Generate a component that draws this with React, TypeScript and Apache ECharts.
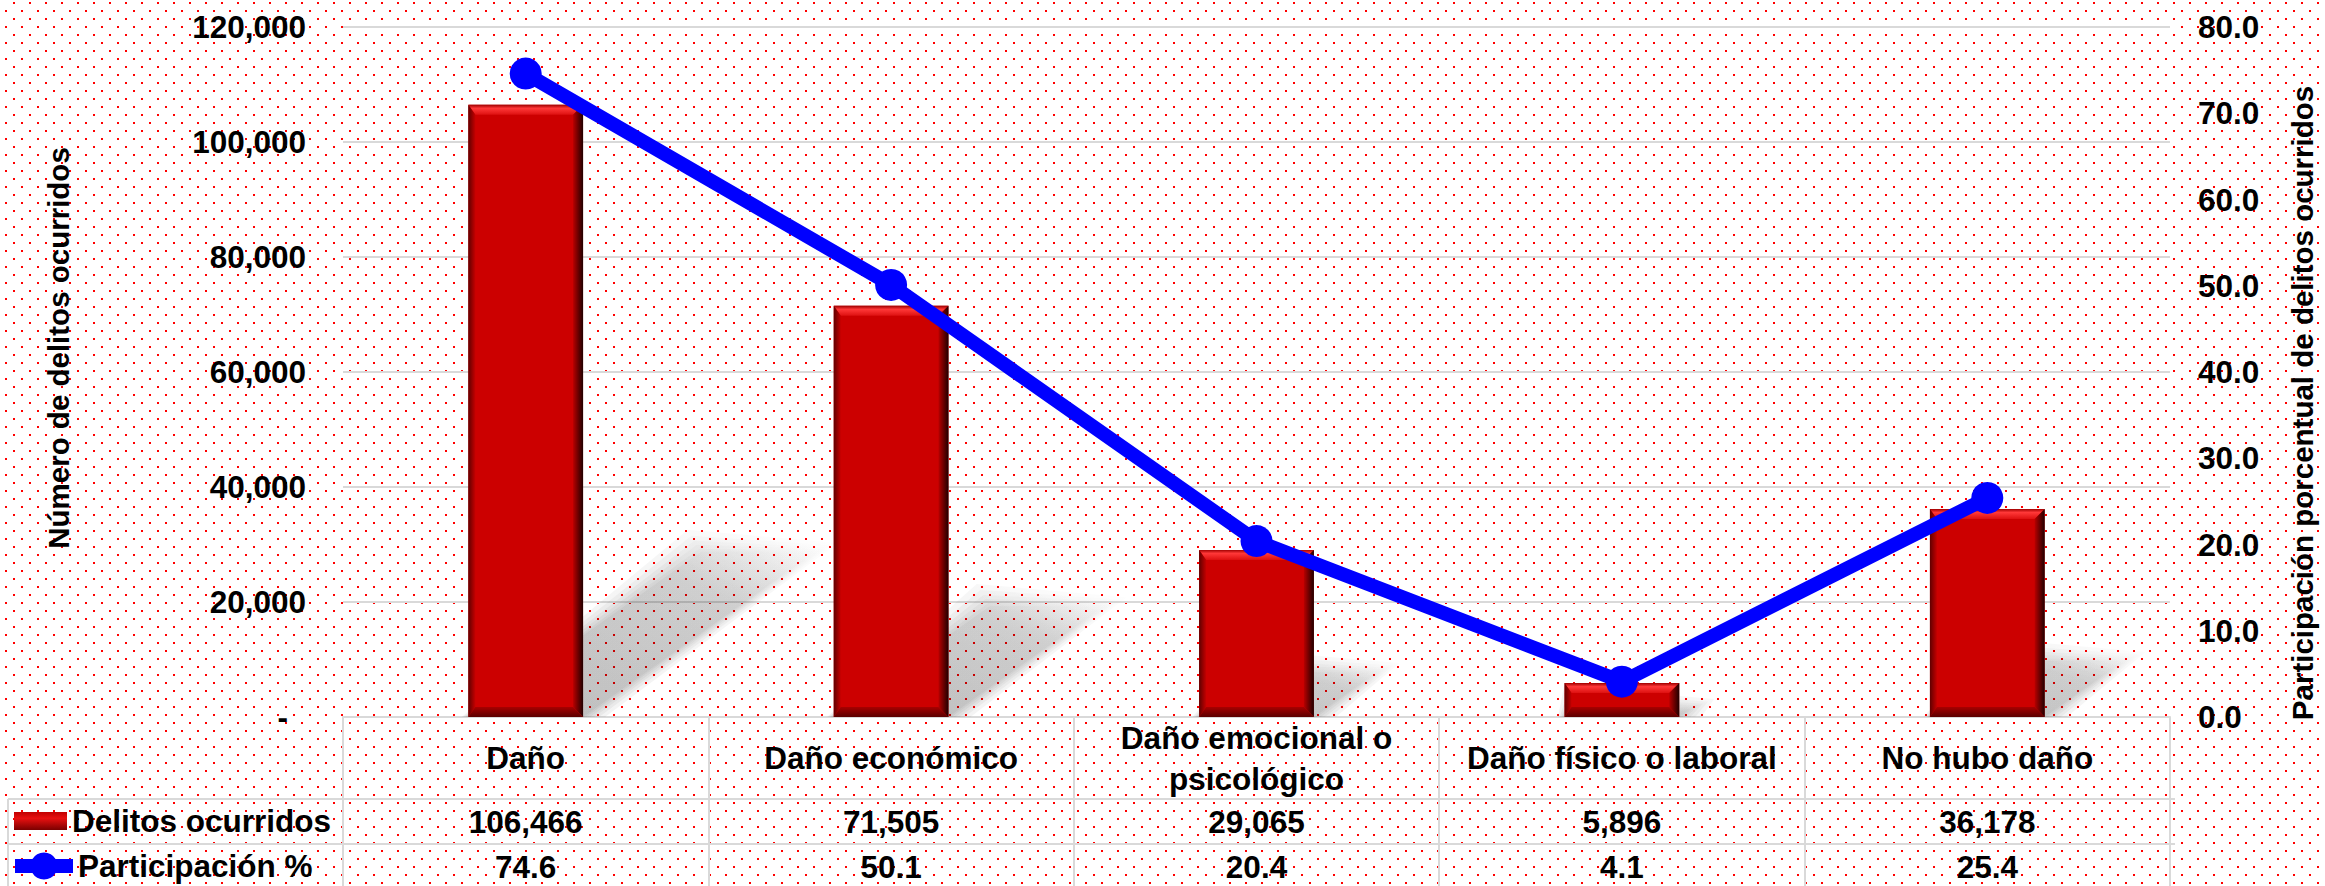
import React, { useEffect, useRef } from "react";
import * as echarts from "echarts";

const categories = [
  "Daño",
  "Daño económico",
  "Daño emocional o psicológico",
  "Daño físico o laboral",
  "No hubo daño",
];
const delitos = [106466, 71505, 29065, 5896, 36178];
const participacion = [74.6, 50.1, 20.4, 4.1, 25.4];
const seriesNames = ["Delitos ocurridos", "Participación %"];
const leftAxisName = "Número de delitos ocurridos";
const rightAxisName = "Participación porcentual de delitos ocurridos";

const FONT = "'Liberation Sans', Arial, sans-serif";
const FS = 31.5;
const GRID_LEFT = 343;
const GRID_RIGHT_X = 2175;
const GRID_TOP = 27;
const GRID_BOTTOM_Y = 717;
const ROW1 = 799;
const ROW2 = 844;
const GREY = "#D9D9D9";

const tile =
  "data:image/svg+xml;utf8," +
  encodeURIComponent(
    "<svg xmlns='http://www.w3.org/2000/svg' width='16' height='16'><rect x='5' y='10' width='2' height='2' fill='#ff0000'/><rect x='13' y='2' width='2' height='2' fill='#ff0000'/></svg>"
  );

function wrap(name: string, max: number): string {
  const words = name.split(" ");
  const lines: string[] = [];
  let cur = "";
  for (const w of words) {
    const t = cur ? cur + " " + w : w;
    if (t.length > max && cur) {
      lines.push(cur);
      cur = w;
    } else cur = t;
  }
  if (cur) lines.push(cur);
  return lines.join("\n");
}

function renderShadow(params: any, api: any) {
  const idx = api.value(0);
  const val = api.value(1);
  const top = api.coord([idx, val]);
  const base = api.coord([idx, 0]);
  const band = api.size([1, 0])[0];
  const w = band * 0.314;
  const x0 = top[0] - w / 2;
  const x1 = top[0] + w / 2;
  const y1 = base[1];
  const h = y1 - top[1];
  const dx = h * 0.38;
  const dy = h * 0.27;
  const layers = [22, 16, 11, 7, 3, 0];
  return {
    type: "group",
    children: layers.map((e) => ({
      type: "polygon",
      shape: {
        points: [
          [x0 - e * 0.3, y1],
          [x1 + e, y1],
          [x1 + dx + e, y1 - dy - e * 0.4],
          [x0 + dx - e * 0.6, y1 - dy - e],
        ],
      },
      style: {
        fill: new echarts.graphic.LinearGradient(0, 1, 1, 0, [
          { offset: 0, color: "rgba(0,0,0,0.05)" },
          { offset: 0.7, color: "rgba(0,0,0,0.035)" },
          { offset: 1, color: "rgba(0,0,0,0.0)" },
        ]),
      },
    })),
  };
}

function renderBar(params: any, api: any) {
  const idx = api.value(0);
  const val = api.value(1);
  const top = api.coord([idx, val]);
  const base = api.coord([idx, 0]);
  const band = api.size([1, 0])[0];
  const w = band * 0.314;
  const x0 = top[0] - w / 2;
  const x1 = top[0] + w / 2;
  const y0 = top[1];
  const y1 = base[1];
  const b = Math.min(10, (y1 - y0) / 2);
  const bl = Math.min(7, (y1 - y0) / 2);
  return {
    type: "group",
    children: [
      {
        type: "rect",
        shape: { x: x0, y: y0, width: w, height: y1 - y0 },
        style: { fill: "#CC0000" },
      },
      {
        type: "polygon",
        shape: { points: [[x0, y0], [x1, y0], [x1 - b, y0 + b], [x0 + bl, y0 + b]] },
        style: {
          fill: new echarts.graphic.LinearGradient(0, 0, 0, 1, [
            { offset: 0, color: "#A00000" },
            { offset: 0.35, color: "#FF3838" },
            { offset: 1, color: "#DD1010" },
          ]),
        },
      },
      {
        type: "polygon",
        shape: { points: [[x0, y0], [x0 + bl, y0 + b], [x0 + bl, y1 - b], [x0, y1]] },
        style: {
          fill: new echarts.graphic.LinearGradient(0, 0, 1, 0, [
            { offset: 0, color: "#600000" },
            { offset: 1, color: "#C40000" },
          ]),
        },
      },
      {
        type: "polygon",
        shape: { points: [[x1, y0], [x1, y1], [x1 - b, y1 - b], [x1 - b, y0 + b]] },
        style: {
          fill: new echarts.graphic.LinearGradient(0, 0, 1, 0, [
            { offset: 0, color: "#B80000" },
            { offset: 1, color: "#200000" },
          ]),
        },
      },
      {
        type: "polygon",
        shape: { points: [[x0, y1], [x1, y1], [x1 - b, y1 - b], [x0 + bl, y1 - b]] },
        style: {
          fill: new echarts.graphic.LinearGradient(0, 0, 0, 1, [
            { offset: 0, color: "#A80000" },
            { offset: 1, color: "#5A0000" },
          ]),
        },
      },
    ],
  };
}

export default function App() {
  const ref = useRef<HTMLDivElement>(null);
  useEffect(() => {
    if (!ref.current) return;
    const chart = echarts.init(ref.current, undefined, { renderer: "svg" });
    const labelBase = { fontFamily: FONT, fontWeight: "bold" as const, fontSize: FS, color: "#000" };
    const option: any = {
      animation: false,
      textStyle: { fontFamily: FONT },
      grid: {
        left: GRID_LEFT,
        right: 2325 - GRID_RIGHT_X,
        top: GRID_TOP,
        bottom: 886 - GRID_BOTTOM_Y,
        containLabel: false,
      },
      legend: [
        {
          left: 9,
          top: ROW1 - 1,
          padding: 5,
          itemWidth: 53,
          itemHeight: 18,
          textStyle: { ...labelBase, lineHeight: 36 },
          data: [
            {
              name: seriesNames[0],
              icon: "rect",
              itemStyle: {
                color: new echarts.graphic.LinearGradient(0, 0, 0, 1, [
                  { offset: 0, color: "#C00000" },
                  { offset: 0.35, color: "#E81010" },
                  { offset: 1, color: "#7A0000" },
                ]),
              },
            },
          ],
        },
        {
          left: 3,
          top: ROW2 - 1,
          padding: 5,
          itemWidth: 58,
          itemHeight: 34,
          textStyle: { ...labelBase, lineHeight: 36 },
          lineStyle: { width: 14 },
          data: [{ name: seriesNames[1] }],
        },
      ],
      xAxis: {
        type: "category",
        data: categories,
        boundaryGap: true,
        axisLine: { show: true, lineStyle: { color: GREY, width: 2 } },
        axisTick: { show: true, interval: 0, length: 172, lineStyle: { color: GREY, width: 2 } },
        axisLabel: {
          interval: 0,
          margin: 0,
          formatter: (name: string, i: number) => {
            const w = wrap(name, 22);
            const lines = w.split("\n");
            const head =
              lines.length > 1 ? lines.map((l) => "{c2|" + l + "}").join("\n") : "{c1|" + name + "}";
            return (
              head +
              "\n{v|" +
              delitos[i].toLocaleString("en-US") +
              "}\n{p|" +
              participacion[i].toFixed(1) +
              "}"
            );
          },
          rich: {
            c1: { ...labelBase, lineHeight: 82 },
            c2: { ...labelBase, lineHeight: 41 },
            v: { ...labelBase, lineHeight: 45 },
            p: { ...labelBase, lineHeight: 45 },
          },
        },
        splitLine: { show: false },
      },
      yAxis: [
        {
          type: "value",
          position: "left",
          min: 0,
          max: 120000,
          interval: 20000,
          axisLine: { show: false },
          axisTick: { show: false },
          splitLine: { show: true, lineStyle: { color: GREY, width: 2 } },
          axisLabel: {
            margin: 37,
            ...labelBase,
            formatter: (v: number) => (v === 0 ? "{z|-}" : v.toLocaleString("en-US")),
            rich: { z: { ...labelBase, padding: [0, 18, 0, 0] } },
          },
          name: leftAxisName,
          nameLocation: "middle",
          nameRotate: 90,
          nameGap: 270,
          nameTextStyle: {
            fontFamily: FONT,
            fontWeight: "bold",
            fontSize: 29.5,
            color: "#000",
            padding: [0, 0, 0, 48],
          },
        },
        {
          type: "value",
          position: "right",
          min: 0,
          max: 80,
          interval: 10,
          axisLine: { show: false },
          axisTick: { show: false },
          splitLine: { show: false },
          axisLabel: {
            margin: 28,
            ...labelBase,
            formatter: (v: number) => v.toFixed(1),
          },
          name: rightAxisName,
          nameLocation: "middle",
          nameRotate: 90,
          nameGap: 117,
          nameTextStyle: {
            fontFamily: FONT,
            fontWeight: "bold",
            fontSize: 29.5,
            color: "#000",
            padding: [0, 62, 0, 0],
          },
        },
      ],
      graphic: [
        { type: "line", shape: { x1: 8, y1: ROW1, x2: GRID_RIGHT_X, y2: ROW1 }, style: { stroke: GREY, lineWidth: 2 } },
        { type: "line", shape: { x1: 8, y1: ROW2, x2: GRID_RIGHT_X, y2: ROW2 }, style: { stroke: GREY, lineWidth: 2 } },
        { type: "line", shape: { x1: 8, y1: ROW1, x2: 8, y2: 886 }, style: { stroke: GREY, lineWidth: 2 } },
      ],
      series: [
        {
          type: "custom",
          name: "shadow",
          silent: true,
          renderItem: renderShadow,
          data: delitos.map((v, i) => [i, v]),
          z: 1,
        },
        {
          type: "custom",
          name: seriesNames[0],
          renderItem: renderBar,
          itemStyle: { color: "#CC0000" },
          data: delitos.map((v, i) => [i, v]),
          z: 2,
        },
        {
          type: "line",
          name: seriesNames[1],
          yAxisIndex: 1,
          data: participacion,
          symbol: "circle",
          symbolSize: 32,
          lineStyle: { width: 14, color: "#0000FF" },
          itemStyle: { color: "#0000FF" },
          z: 5,
        },
      ],
    };
    chart.setOption(option);
    return () => chart.dispose();
  }, []);
  return (
    <div
      ref={ref}
      style={{
        position: "fixed",
        left: 0,
        top: 0,
        width: 2325,
        height: 886,
        backgroundColor: "#ffffff",
        backgroundImage: `url("${tile}")`,
        backgroundRepeat: "repeat",
      }}
    />
  );
}
